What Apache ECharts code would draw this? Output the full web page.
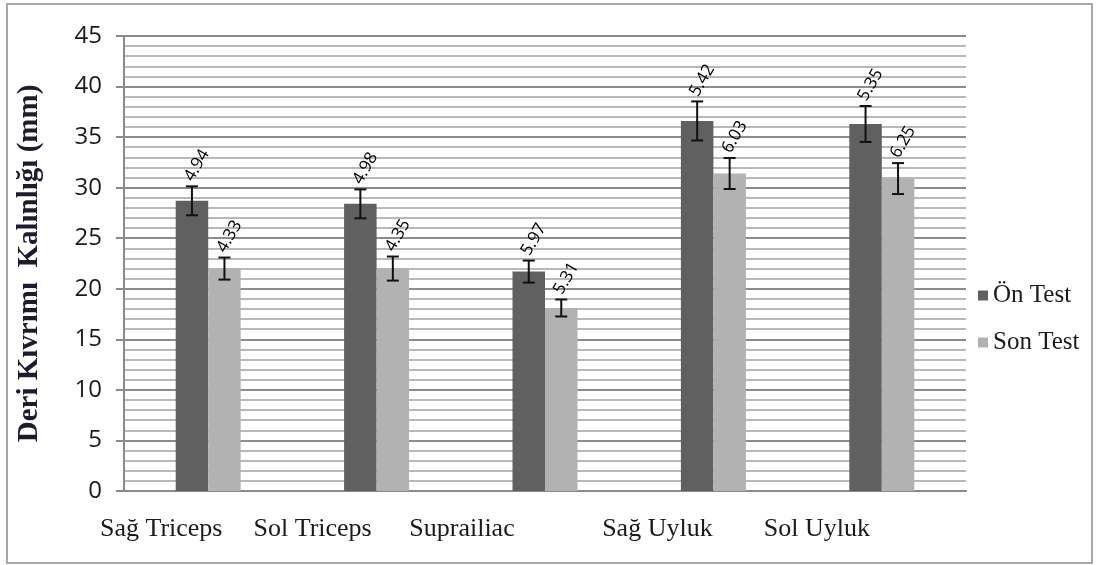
<!DOCTYPE html>
<html>
<head>
<meta charset="utf-8">
<script src="https://cdn.jsdelivr.net/npm/echarts@6/dist/echarts.min.js"></script>
<style>
html,body{margin:0;padding:0;background:#fff;}
#c{width:1096px;height:565px;}
</style>
</head>
<body>
<div id="c"></div>
<script>
const categories = ['Sağ Triceps', 'Sol Triceps', 'Suprailiac', 'Sağ Uyluk', 'Sol Uyluk'];
const seriesNames = ['Ön Test', 'Son Test'];
const onTest = [28.7, 28.4, 21.7, 36.6, 36.3];
const sonTest = [22.0, 22.0, 18.1, 31.4, 30.9];
const onErr = [1.43, 1.43, 1.09, 1.93, 1.78];
const sonErr = [1.09, 1.19, 0.84, 1.53, 1.53];
const onLabels = ['4.94', '4.98', '5.97', '5.42', '5.35'];
const sonLabels = ['4.33', '4.35', '5.31', '6.03', '6.25'];
const yTicks = [0, 5, 10, 15, 20, 25, 30, 35, 40, 45];

const BAR_FRAC = 0.193;
const labelShift = [94, 128, 166, 112, 130];
const serif = '"Liberation Serif", "DejaVu Serif", serif';
const sans = '"Open Sans", "Liberation Sans", sans-serif';

function errData(vals, errs, labels) {
  return vals.map((v, i) => [i, v, errs[i], labels[i]]);
}
function makeErr(group) {
  return function (params, api) {
    const ci = api.value(0), v = api.value(1), e = api.value(2);
    const lab = group === 0 ? onLabels[ci] : sonLabels[ci];
    const bw = api.size([1, 0])[0] * BAR_FRAC;
    const base = api.coord([ci, v]);
    const x = base[0] + (group === 0 ? -bw / 2 : bw / 2);
    const top = api.coord([ci, v + e])[1];
    const bot = api.coord([ci, v - e])[1];
    const cap = 6;
    const ls = { stroke: '#111', lineWidth: 2 };
    return {
      type: 'group',
      children: [
        { type: 'line', shape: { x1: x, y1: top, x2: x, y2: bot }, style: ls },
        { type: 'line', shape: { x1: x - cap, y1: top, x2: x + cap, y2: top }, style: ls },
        { type: 'line', shape: { x1: x - cap, y1: bot, x2: x + cap, y2: bot }, style: ls },
        {
          type: 'text', x: x + 5, y: top - 21, rotation: Math.PI / 3,
          style: { text: lab, fill: '#000', font: '17px ' + sans, textAlign: 'center', textVerticalAlign: 'middle' }
        }
      ]
    };
  };
}

const rich = {};
categories.forEach((c, i) => {
  rich['c' + i] = { fontFamily: serif, fontSize: 26, color: '#1a1a1a', padding: [0, labelShift[i], 0, 0] };
});

const chart = echarts.init(document.getElementById('c'));
chart.setOption({
  animation: false,
  backgroundColor: '#fff',
  graphic: [{
    type: 'rect', shape: { x: 7, y: 4, width: 1085, height: 559 },
    style: { fill: 'none', stroke: '#a8a8a8', lineWidth: 2 }, silent: true, z: -1
  }],
  grid: { left: 124, right: 130, top: 36, bottom: 74 },
  legend: {
    orient: 'vertical', left: 973, top: 278, itemWidth: 10, itemHeight: 10, itemGap: 22,
    icon: 'rect',
    textStyle: { fontFamily: serif, fontSize: 25, color: '#1a1a1a' },
    data: seriesNames
  },
  xAxis: {
    type: 'category', data: categories,
    axisLine: { lineStyle: { color: '#8a8a8a', width: 2 } },
    axisTick: { show: false },
    axisLabel: {
      margin: 25, interval: 0,
      formatter: (v, i) => '{c' + i + '|' + v + '}',
      rich: rich
    }
  },
  yAxis: {
    type: 'value', min: 0, max: 45, interval: 5,
    name: 'Deri Kıvrımı  Kalınlığı (mm)', nameLocation: 'middle', nameRotate: 90, nameGap: 80,
    nameTextStyle: { fontFamily: serif, fontWeight: 'bold', fontSize: 29, color: '#1c1c30' },
    axisLine: { show: true, lineStyle: { color: '#8a8a8a', width: 2 } },
    axisTick: { show: true, length: 8, lineStyle: { color: '#8a8a8a', width: 2 } },
    axisLabel: {
      margin: 22, fontFamily: sans, fontSize: 24, color: '#1a1a1a',
      formatter: v => (yTicks.indexOf(v) >= 0 ? String(v) : '')
    },
    splitLine: { show: true, lineStyle: { color: '#8c8c8c', width: 2 } },
    minorTick: { show: false, splitNumber: 5 },
    minorSplitLine: { show: true, lineStyle: { color: '#b8b8b8', width: 2 } }
  },
  series: [
    { name: seriesNames[0], type: 'bar', data: onTest, barWidth: (BAR_FRAC * 100) + '%', barGap: '0%', itemStyle: { color: '#606060' } },
    { name: seriesNames[1], type: 'bar', data: sonTest, barWidth: (BAR_FRAC * 100) + '%', barGap: '0%', itemStyle: { color: '#b2b2b2' } },
    { type: 'custom', renderItem: makeErr(0), data: errData(onTest, onErr, onLabels), encode: { x: 0, y: 1 }, z: 5, silent: true },
    { type: 'custom', renderItem: makeErr(1), data: errData(sonTest, sonErr, sonLabels), encode: { x: 0, y: 1 }, z: 5, silent: true }
  ]
});
</script>
</body>
</html>
